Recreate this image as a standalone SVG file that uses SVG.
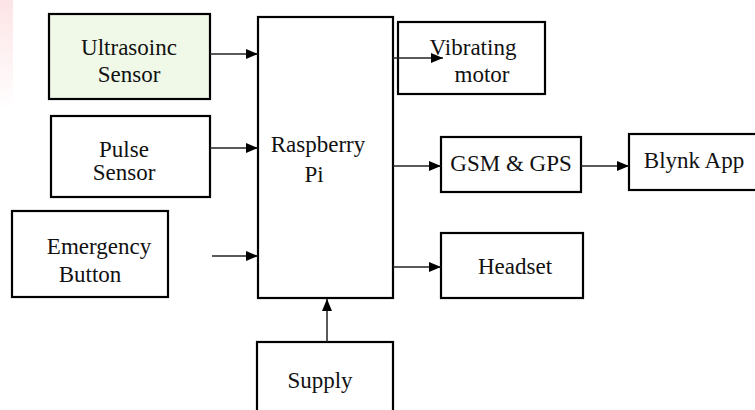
<svg xmlns="http://www.w3.org/2000/svg" width="755" height="410" viewBox="0 0 755 410">
<style>
.box{fill:#fff;stroke:#000;stroke-width:2.2}
.t{font-family:"Liberation Serif","Times New Roman","DejaVu Serif",serif;font-size:23px;fill:#111;text-anchor:middle}
.c{stroke:#222;stroke-width:1.5;fill:none}
</style>
<defs>
<marker id="ah" viewBox="0 0 12 12" refX="12" refY="6" markerWidth="12" markerHeight="12" markerUnits="userSpaceOnUse" orient="auto">
<path d="M0,1 L12,6 L0,11 Z" fill="#000"/>
</marker>
<linearGradient id="pk" x1="0" y1="0" x2="0" y2="1">
<stop offset="0" stop-color="#fde4e6"/>
<stop offset="1" stop-color="#fff"/>
</linearGradient>
</defs>
<rect width="755" height="410" fill="#fff"/>
<rect x="0" y="0" width="13" height="110" fill="url(#pk)"/>
<g id="ultrasonic">
<rect class="box" x="49" y="14" width="161" height="85" style="fill:#f0f9e8"/>
<text class="t" x="129" y="55">Ultrasoinc</text>
<text class="t" x="129" y="82">Sensor</text>
</g>
<g id="pulse">
<rect class="box" x="51" y="116" width="159" height="81"/>
<text class="t" x="124" y="157">Pulse</text>
<text class="t" x="124" y="180">Sensor</text>
</g>
<g id="emergency">
<rect class="box" x="12" y="211" width="156" height="86"/>
<text class="t" x="99" y="254">Emergency</text>
<text class="t" x="90" y="282">Button</text>
</g>
<g id="raspberry">
<rect class="box" x="258" y="17" width="135" height="281"/>
<text class="t" x="318" y="152">Raspberry</text>
<text class="t" x="314" y="182">Pi</text>
</g>
<g id="vibrating">
<rect class="box" x="398" y="22" width="147" height="72"/>
<text class="t" x="473" y="55">Vibrating</text>
<text class="t" x="482" y="82">motor</text>
</g>
<g id="gsm">
<rect class="box" x="441" y="137" width="140" height="55"/>
<text class="t" x="511" y="171">GSM &amp; GPS</text>
</g>
<g id="blynk">
<rect class="box" x="629" y="134" width="135" height="56"/>
<text class="t" x="694" y="168">Blynk App</text>
</g>
<g id="headset">
<rect class="box" x="441" y="233" width="142" height="65"/>
<text class="t" x="515" y="274">Headset</text>
</g>
<g id="supply">
<rect class="box" x="257" y="342" width="136" height="80"/>
<text class="t" x="320" y="388">Supply</text>
</g>
<g id="connectors">
<line class="c" x1="210" y1="54" x2="258" y2="54" marker-end="url(#ah)"/>
<line class="c" x1="210" y1="148" x2="258" y2="148" marker-end="url(#ah)"/>
<line class="c" x1="212" y1="256" x2="258" y2="256" marker-end="url(#ah)"/>
<line class="c" x1="393" y1="58" x2="443" y2="58" marker-end="url(#ah)"/>
<line class="c" x1="393" y1="166" x2="441" y2="166" marker-end="url(#ah)"/>
<line class="c" x1="581" y1="166" x2="629" y2="166" marker-end="url(#ah)"/>
<line class="c" x1="393" y1="267" x2="441" y2="267" marker-end="url(#ah)"/>
<line class="c" x1="327" y1="342" x2="327" y2="299" marker-end="url(#ah)"/>
</g>
</svg>
